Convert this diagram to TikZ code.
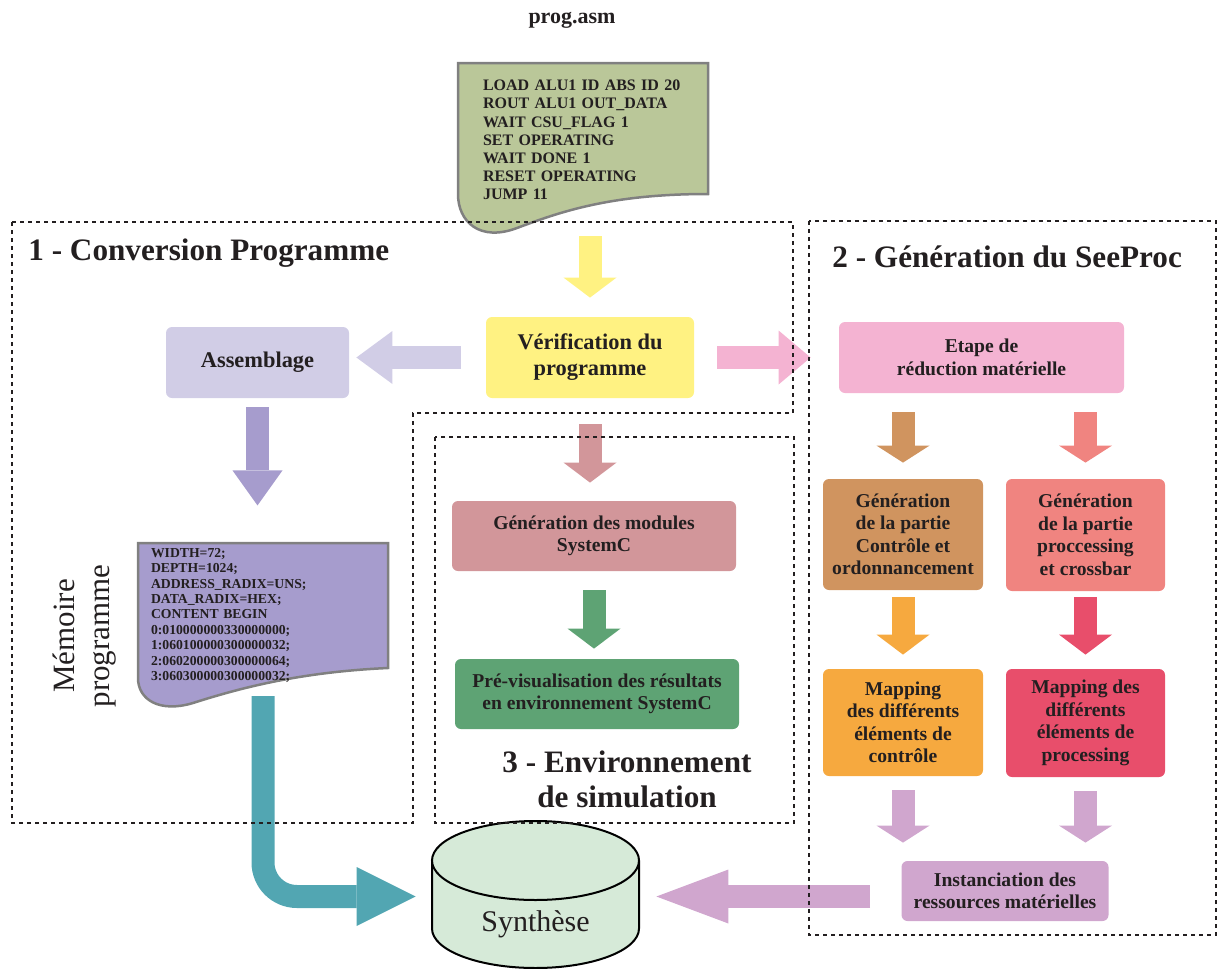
\documentclass[tikz,border=0pt]{standalone}
\usepackage{fontspec}
\setmainfont{Liberation Serif}
\usetikzlibrary{arrows.meta}

\definecolor{ink}{RGB}{35,31,32}
\definecolor{docline}{RGB}{128,128,128}
\definecolor{progc}{RGB}{186,199,153}
\definecolor{memc}{RGB}{166,156,205}
\definecolor{verifc}{RGB}{255,242,130}
\definecolor{assemc}{RGB}{209,205,230}
\definecolor{etapec}{RGB}{244,179,210}
\definecolor{brownc}{RGB}{208,148,95}
\definecolor{salmonc}{RGB}{240,132,128}
\definecolor{orangec}{RGB}{246,169,63}
\definecolor{redc}{RGB}{232,78,107}
\definecolor{lilacc}{RGB}{208,166,206}
\definecolor{modc}{RGB}{210,150,154}
\definecolor{greenc}{RGB}{94,163,116}
\definecolor{tealc}{RGB}{82,166,178}
\definecolor{synthc}{RGB}{214,234,216}

\tikzset{
  stage/.style={fill=#1, rounded corners=3pt, align=center, inner sep=2pt,
    font=\bfseries\fontsize{9.8}{11.25}\selectfont},
  flow/.style={draw=#1, line width=11.5pt,
    -{Triangle[width=26.5pt,length=10pt,line width=0pt]}},
  zone/.style={draw=ink, line width=1pt, dash pattern=on 2pt off 2pt},
  doc/.style={fill=#1, draw=docline, line width=1.25pt},
  code/.style={align=left, inner sep=0pt},
  ztitle/.style={inner sep=0pt, font=\bfseries\fontsize{15.6}{17.5}\selectfont},
}

\begin{document}
\begin{tikzpicture}[x=0.5pt, y=-0.5pt, every node/.style={text=ink}]
  \useasboundingbox (0,0) rectangle (1221,969);

  % source file
  \node[font=\bfseries\fontsize{11}{13}\selectfont] (asm) at (572,20) {prog.asm};
  \filldraw[doc=progc] (458,63) -- (708,63) -- (708,194)
    .. controls (610,194) and (560,212) .. (517,228)
    .. controls (480,242) and (458,222) .. (458,194) -- cycle;
  \node[code, text width=100pt, font=\bfseries\fontsize{8}{9.1}\selectfont] (prog) at (583,140)
    {LOAD ALU1 ID ABS ID 20\\ROUT ALU1 OUT\_DATA\\WAIT CSU\_FLAG 1\\SET OPERATING\\WAIT DONE 1\\RESET OPERATING\\JUMP 11};

  % memory file
  \filldraw[doc=memc] (138,543) -- (388,543) -- (388,668)
    .. controls (300,672) and (240,688) .. (193,703)
    .. controls (160,713) and (138,700) .. (138,678) -- cycle;
  \node[code, text width=112pt, inner sep=6.5pt, font=\bfseries\fontsize{6.85}{7.7}\selectfont] (mem) at (263,615.5)
    {WIDTH=72;\\DEPTH=1024;\\ADDRESS\_RADIX=UNS;\\DATA\_RADIX=HEX;\\CONTENT BEGIN\\0:010000000330000000;\\1:060100000300000032;\\2:060200000300000064;\\3:060300000300000032;};
  \node[rotate=90, align=center, font=\fontsize{15.5}{17.5}\selectfont] (memlbl) at (85,636) {Mémoire\\programme};

  % synthesis cylinder
  \fill[synthc] (432,860.5) -- (432,928.5) arc[start angle=180, end angle=0, x radius=103.5, y radius=39.5] -- (639,860.5) -- cycle;
  \draw[line width=1pt] (432,860.5) -- (432,928.5) arc[start angle=180, end angle=0, x radius=103.5, y radius=39.5] -- (639,860.5);
  \draw[line width=1pt, fill=synthc] (535.5,860.5) ellipse[x radius=103.5, y radius=39.5];
  \node[minimum width=103.5pt, inner sep=0pt, font=\fontsize{15}{17}\selectfont] (synth) at (535.5,924) {Synthèse};

  % stages
  \node[stage=assemc, minimum width=91.5pt, minimum height=35.5pt, font=\bfseries\fontsize{11.2}{13}\selectfont] (assem) at (257.5,362.5) {Assemblage};
  \node[stage=verifc, minimum width=104pt, minimum height=40.5pt, font=\bfseries\fontsize{11.2}{13}\selectfont] (verif) at (590,357.5) {Vérification du\\programme};
  \node[stage=etapec, minimum width=142.5pt, minimum height=35.5pt] (etape) at (981.5,357.5) {Etape de\\réduction matérielle};
  \node[stage=brownc, minimum width=80pt, minimum height=55.5pt] (genc) at (903,534.5) {Génération\\de la partie\\Contrôle et\\ordonnancement};
  \node[stage=salmonc, minimum width=79.5pt, minimum height=56pt] (genp) at (1085.5,535) {Génération\\de la partie\\proccessing\\et crossbar};
  \node[stage=orangec, minimum width=80pt, minimum height=53.5pt] (mapc) at (903,722.5) {Mapping\\des différents\\éléments de\\contrôle};
  \node[stage=redc, minimum width=79.5pt, minimum height=54pt] (mapp) at (1085.5,723) {Mapping des\\différents\\éléments de\\processing};
  \node[stage=lilacc, minimum width=103.5pt, minimum height=30pt] (inst) at (1005,891) {Instanciation des\\ressources matérielles};
  \node[stage=modc, minimum width=142pt, minimum height=35pt] (genmod) at (594,536) {Génération des modules\\SystemC};
  \node[stage=greenc, minimum width=142pt, minimum height=35pt] (previs) at (597,694) {Pré-visualisation des résultats\\en environnement SystemC};

  % flow arrows
  \draw[flow=verifc, shorten <=18pt, shorten >=9.5pt] (prog.south -| verif.north) -- (verif.north);
  \draw[flow=assemc, shorten <=12.5pt, shorten >=3.5pt, -{Triangle[width=26.5pt,length=18pt,line width=0pt]}] (verif.west) -- (verif.west -| assem.east);
  \draw[flow=etapec, shorten <=11.5pt, shorten >=14pt, -{Triangle[width=27pt,length=16pt,line width=0pt]}] (verif.east) -- (verif.east -| etape.west);
  \draw[flow=memc, shorten <=4.5pt, shorten >=14.75pt, -{Triangle[width=25pt,length=17.5pt,line width=0pt]}] (assem.south) -- (assem.south |- mem.north);
  \draw[flow=modc, shorten <=13pt, shorten >=9pt] (verif.south) -- (verif.south |- genmod.north);
  \draw[flow=greenc, shorten <=9.5pt, shorten >=5pt] (genmod.south) -- (genmod.south |- previs.north);
  \draw[flow=brownc, shorten <=9.5pt, shorten >=8pt, -{Triangle[width=26.5pt,length=8.5pt,line width=0pt]}] (etape.south -| genc.north) -- (genc.north);
  \draw[flow=salmonc, shorten <=9.5pt, shorten >=8pt, -{Triangle[width=26.5pt,length=8.5pt,line width=0pt]}] (etape.south -| genp.north) -- (genp.north);
  \draw[flow=orangec, shorten <=3.5pt, shorten >=7pt] (genc.south) -- (mapc.north);
  \draw[flow=redc, shorten <=3pt, shorten >=7pt] (genp.south) -- (mapp.north);
  \draw[flow=lilacc, shorten <=7pt, shorten >=9pt, -{Triangle[width=26.5pt,length=8.5pt,line width=0pt]}] (mapc.south) -- (mapc.south |- inst.north);
  \draw[flow=lilacc, shorten <=7pt, shorten >=9pt, -{Triangle[width=26.5pt,length=8.5pt,line width=0pt]}] (mapp.south) -- (mapp.south |- inst.north);
  \draw[flow=lilacc, shorten <=15.5pt, shorten >=8.5pt, -{Triangle[width=27pt,length=36pt,line width=0pt]}] ([yshift=13.75pt]synth.east -| inst.west) -- ([yshift=13.75pt]synth.east);
  \draw[flow=tealc, rounded corners=17pt, shorten >=8pt, -{Triangle[width=29.5pt,length=29.5pt,line width=0pt]}] (mem.south) |- ([yshift=13.75pt]synth.west);

  % zones
  \draw[zone] (12,222) -- (793,222) -- (793,413) -- (413,413) -- (413,823) -- (12,823) -- cycle;
  \draw[zone] (809,221) rectangle (1216,935);
  \draw[zone] (435,437) rectangle (794,823);
  \node[ztitle, anchor=west] (t1) at (28,253) {1 - Conversion Programme};
  \node[ztitle, anchor=west] (t2) at (832,257) {2 - Génération du SeeProc};
  \node[ztitle, align=center] (t3) at (627,779) {3 - Environnement\\de simulation};
\end{tikzpicture}
\end{document}
